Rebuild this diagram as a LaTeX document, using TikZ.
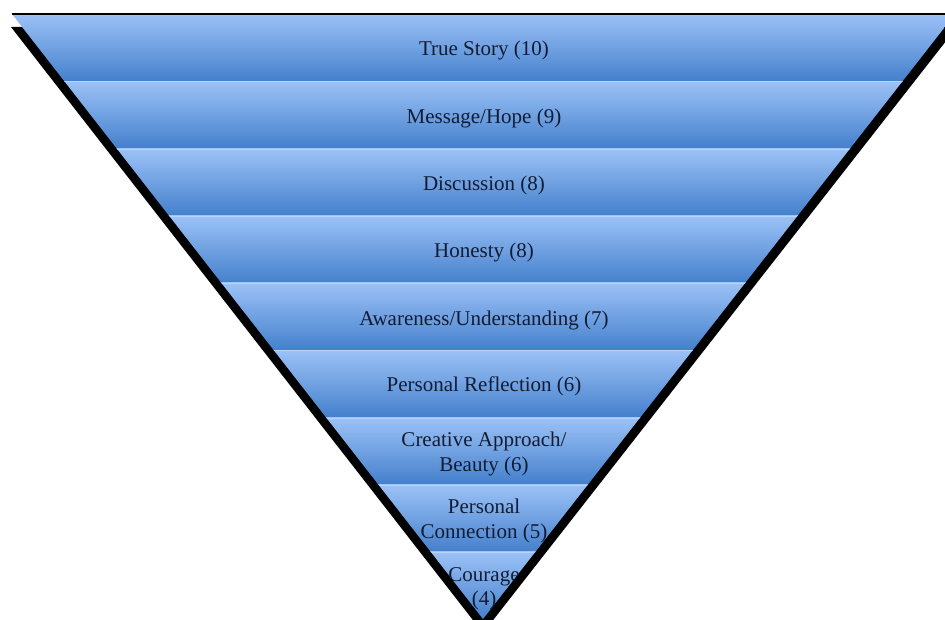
\documentclass[tikz,border=0pt]{standalone}
\usepackage{fontspec}
\setmainfont{Liberation Serif}
\definecolor{bandtop}{RGB}{156,194,247}
\definecolor{bandbot}{RGB}{68,128,204}
\definecolor{textc}{RGB}{18,28,52}
\begin{document}
\begin{tikzpicture}[x=1pt,y=-1pt,
  band/.style={top color=bandtop, bottom color=bandbot},
  lbl/.style={text=textc, font=\fontsize{21}{24.5}\selectfont, align=center, inner sep=0pt}]
\useasboundingbox (0,0) rectangle (945,620);
\fill[white] (0,0) rectangle (945,620);
% drop shadow
\fill[black] (11,27) -- (957,27) -- (483,633) -- cycle;
\begin{scope}
  \clip (12,14) -- (955,14) -- (483,619) -- cycle;
  \foreach \i in {0,...,8} {
    \shade[band] (0,{14+67.22*\i}) rectangle (960,{14+67.22*(\i+1)});
    \draw[bandtop!70!white, line width=0.8pt] (0,{14.6+67.22*\i}) -- (960,{14.6+67.22*\i});
  }
  \node[lbl] (t1) at (484,50) {True Story (10)};
  \node[lbl] (t2) at (484,118) {Message/Hope (9)};
  \node[lbl] (t3) at (484,185) {Discussion (8)};
  \node[lbl] (t4) at (484,252) {Honesty (8)};
  \node[lbl] (t5) at (484,320) {Awareness/Understanding (7)};
  \node[lbl] (t6) at (484,386) {Personal Reflection (6)};
  \node[lbl] (t7) at (484,454) {Creative Approach/\\Beauty (6)};
  \node[lbl] (t8) at (484,521) {Personal\\Connection (5)};
  \node[lbl] (t9) at (484,589) {Courage\\(4)};
\end{scope}
\draw[black, line width=1.2pt] (12,14) -- (945,14);
\end{tikzpicture}
\end{document}
